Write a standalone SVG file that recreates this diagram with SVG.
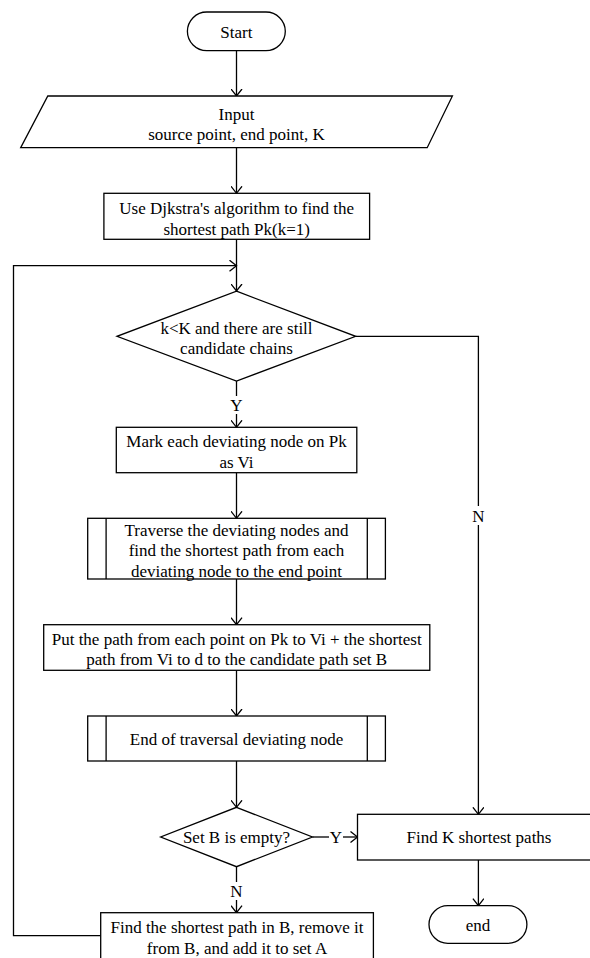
<svg xmlns="http://www.w3.org/2000/svg" width="590" height="958" viewBox="0 0 590 958">
  <style>
    .shape { fill: #ffffff; stroke: #000000; stroke-width: 1.3; }
    .line { fill: none; stroke: #000000; stroke-width: 1.3; }
    text { font-family: "Liberation Serif", "Times New Roman", serif; font-size: 17px; fill: #000000; text-anchor: middle; }
  </style>
  <defs>
    <marker id="arrow" markerUnits="userSpaceOnUse" markerWidth="10" markerHeight="12" refX="7.5" refY="6" orient="auto" viewBox="0 0 10 12">
      <path d="M0.5,0.5 L7.5,6 L0.5,11.5" fill="none" stroke="#000000" stroke-width="1.3"/>
    </marker>
  </defs>
  <rect width="590" height="958" fill="#ffffff"/>

  <g id="connectors">
    <line class="line" x1="236.5" y1="50.7" x2="236.5" y2="96" marker-end="url(#arrow)"/>
    <line class="line" x1="236.5" y1="147.7" x2="236.5" y2="193.3" marker-end="url(#arrow)"/>
    <line class="line" x1="236.5" y1="239.3" x2="236.5" y2="291" marker-end="url(#arrow)"/>
    <!-- loop back from the bottom box -->
    <polyline class="line" points="100.7,935.7 13.5,935.7 13.5,265.7 236.5,265.7" marker-end="url(#arrow)"/>
    <!-- Y branch of first decision -->
    <line class="line" x1="236.5" y1="381" x2="236.5" y2="396"/>
    <line class="line" x1="236.5" y1="414" x2="236.5" y2="427.3" marker-end="url(#arrow)"/>
    <!-- N branch of first decision -->
    <polyline class="line" points="355.7,336.3 478.4,336.3 478.4,506"/>
    <line class="line" x1="478.4" y1="525" x2="478.4" y2="814.3" marker-end="url(#arrow)"/>
    <line class="line" x1="236.5" y1="472.7" x2="236.5" y2="518.3" marker-end="url(#arrow)"/>
    <line class="line" x1="236.5" y1="579" x2="236.5" y2="624.7" marker-end="url(#arrow)"/>
    <line class="line" x1="236.5" y1="670.3" x2="236.5" y2="716" marker-end="url(#arrow)"/>
    <line class="line" x1="236.5" y1="761" x2="236.5" y2="807.3" marker-end="url(#arrow)"/>
    <!-- Y branch of second decision -->
    <line class="line" x1="312.4" y1="837" x2="329" y2="837"/>
    <line class="line" x1="343" y1="837" x2="357.5" y2="837" marker-end="url(#arrow)"/>
    <!-- N branch of second decision -->
    <line class="line" x1="236.5" y1="866.7" x2="236.5" y2="882"/>
    <line class="line" x1="236.5" y1="900" x2="236.5" y2="912.7" marker-end="url(#arrow)"/>
    <line class="line" x1="478.4" y1="860" x2="478.4" y2="905.7" marker-end="url(#arrow)"/>
    <text x="236.5" y="411">Y</text>
    <text x="478.4" y="521.5">N</text>
    <text x="336" y="843">Y</text>
    <text x="236.5" y="897">N</text>
  </g>

  <g id="start">
    <rect class="shape" x="187.4" y="12" width="97.9" height="38.7" rx="19.35" ry="19.35"/>
    <text x="236.4" y="37.5">Start</text>
  </g>

  <g id="input">
    <polygon class="shape" points="47.8,96 452.4,96 427.2,147.7 20.7,147.7"/>
    <text x="236.5" y="119.5">Input</text>
    <text x="236.5" y="140">source point, end point, K</text>
  </g>

  <g id="dijkstra">
    <rect class="shape" x="103.9" y="193.3" width="265.7" height="46"/>
    <text x="236.7" y="213.5">Use Djkstra's algorithm to find the</text>
    <text x="236.7" y="234.5">shortest path Pk(k=1)</text>
  </g>

  <g id="check-k">
    <polygon class="shape" points="236.5,291.2 355.7,336.3 236.5,381 117,336.3"/>
    <text x="236.5" y="333.5">k&lt;K and there are still</text>
    <text x="236.5" y="353.5">candidate chains</text>
  </g>

  <g id="mark">
    <rect class="shape" x="116.3" y="427.3" width="240.5" height="45.4"/>
    <text x="236.5" y="447">Mark each deviating node on Pk</text>
    <text x="236.5" y="467.5">as Vi</text>
  </g>

  <g id="traverse">
    <rect class="shape" x="87.7" y="518.3" width="297.7" height="60.7"/>
    <line class="line" x1="106.1" y1="518.3" x2="106.1" y2="579"/>
    <line class="line" x1="367.3" y1="518.3" x2="367.3" y2="579"/>
    <text x="236.5" y="535.5">Traverse the deviating nodes and</text>
    <text x="236.5" y="556">find the shortest path from each</text>
    <text x="236.5" y="576.5">deviating node to the end point</text>
  </g>

  <g id="put-path">
    <rect class="shape" x="43.7" y="624.7" width="386.1" height="45.6"/>
    <text x="236.7" y="644.5">Put the path from each point on Pk to Vi + the shortest</text>
    <text x="236.7" y="665">path from Vi to d to the candidate path set B</text>
  </g>

  <g id="end-traverse">
    <rect class="shape" x="87.7" y="716" width="297.7" height="45"/>
    <line class="line" x1="106.1" y1="716" x2="106.1" y2="761"/>
    <line class="line" x1="367.3" y1="716" x2="367.3" y2="761"/>
    <text x="236.5" y="745">End of traversal deviating node</text>
  </g>

  <g id="check-b">
    <polygon class="shape" points="236.5,807.3 312.4,837 236.5,866.7 160.7,837"/>
    <text x="236.5" y="843">Set B is empty?</text>
  </g>

  <g id="find-k">
    <rect class="shape" x="357.5" y="814.3" width="242" height="45.7"/>
    <text x="479" y="843">Find K shortest paths</text>
  </g>

  <g id="end">
    <rect class="shape" x="429" y="905.7" width="97.9" height="37.6" rx="18.8" ry="18.8"/>
    <text x="478" y="930.5">end</text>
  </g>

  <g id="pick-shortest">
    <rect class="shape" x="100.7" y="912.7" width="272.7" height="52"/>
    <text x="237" y="932.5">Find the shortest path in B, remove it</text>
    <text x="237" y="954">from B, and add it to set A</text>
  </g>
</svg>
